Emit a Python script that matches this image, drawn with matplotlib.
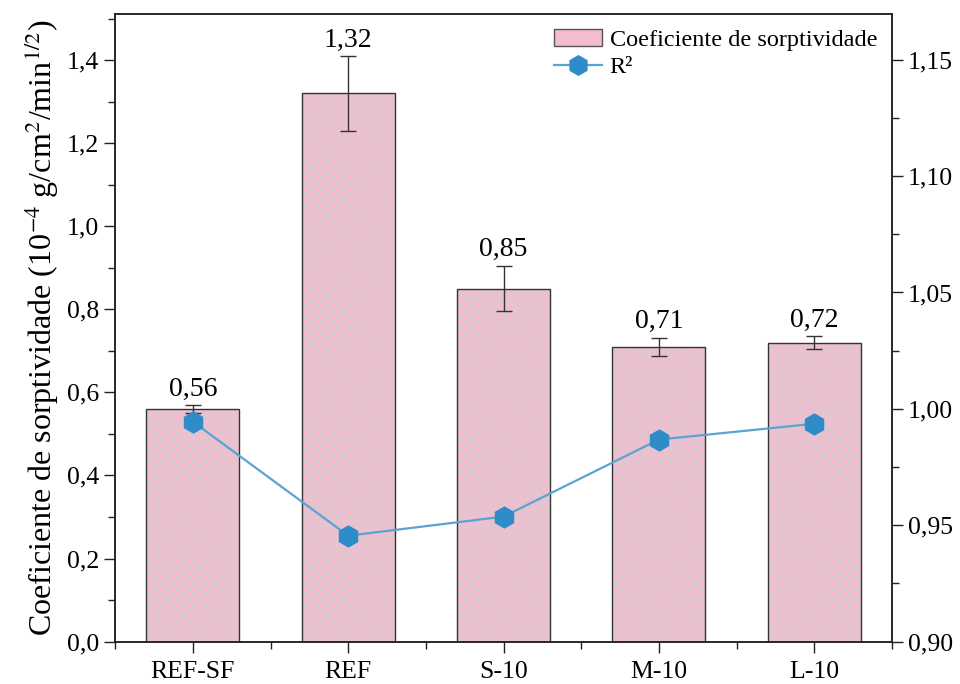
import matplotlib
matplotlib.use("Agg")
import matplotlib.pyplot as plt
from matplotlib.ticker import MultipleLocator, FuncFormatter
from matplotlib.patches import Patch
from matplotlib.lines import Line2D

categories = ["REF-SF", "REF", "S-10", "M-10", "L-10"]
sorptivity = [0.56, 1.32, 0.85, 0.71, 0.72]
sorptivity_err = [0.01, 0.09, 0.055, 0.022, 0.015]
r2 = [0.9945, 0.9455, 0.9537, 0.9868, 0.9936]

plt.rcParams["font.family"] = ["Liberation Serif", "DejaVu Serif"]
plt.rcParams["mathtext.fontset"] = "stix"
plt.rcParams["hatch.linewidth"] = 1.5

fig = plt.figure(figsize=(9.6, 6.84), dpi=100)
ax = fig.add_axes([0.12, 0.062, 0.809, 0.917])
ax2 = ax.twinx()

x = list(range(len(categories)))
bar_face = "#f3bccf"
ax.bar(x, sorptivity, width=0.6, color=bar_face, edgecolor="#dcc8d0",
       hatch="xxx", linewidth=0, zorder=2)
ax.bar(x, sorptivity, width=0.6, fill=False, edgecolor="#333333",
       linewidth=1.0, zorder=3)
ax.errorbar(x, sorptivity, yerr=sorptivity_err, fmt="none", ecolor="#333333",
            elinewidth=1.0, capsize=6, capthick=1.0, zorder=4)
for xi, v, e in zip(x, sorptivity, sorptivity_err):
    ax.text(xi, v + e + 0.008, f"{v:.2f}".replace(".", ","), ha="center",
            va="bottom", fontsize=20)

line_col = "#5aa3d2"
mark_col = "#2e8cc9"
ax2.plot(x, r2, color=line_col, lw=1.6, marker="h", markersize=15,
         markerfacecolor=mark_col, markeredgecolor=mark_col, zorder=5)

ax.set_xlim(-0.5, 4.5)
ax.set_ylim(0, 1.51)
ax2.set_ylim(0.90, 1.1695)

comma = lambda d: FuncFormatter(lambda v, p: f"{v:.{d}f}".replace(".", ","))
ax.yaxis.set_major_locator(MultipleLocator(0.2))
ax.yaxis.set_minor_locator(MultipleLocator(0.1))
ax.yaxis.set_major_formatter(comma(1))
ax2.yaxis.set_major_locator(MultipleLocator(0.05))
ax2.yaxis.set_minor_locator(MultipleLocator(0.025))
ax2.yaxis.set_major_formatter(comma(2))

ax.set_xticks(x)
ax.set_xticklabels(categories)
ax.set_xticks([-0.5, 0.5, 1.5, 2.5, 3.5, 4.5], minor=True)

for a in (ax, ax2):
    a.tick_params(axis="both", which="major", direction="out", length=8,
                  width=1.0, labelsize=18.5, color="#222222")
    a.tick_params(axis="both", which="minor", direction="out", length=5,
                  width=1.0, color="#222222")
    for s in a.spines.values():
        s.set_linewidth(1.1)
        s.set_color("#222222")
ax.tick_params(axis="x", which="major", pad=6)

ax.set_ylabel(r"Coeficiente de sorptividade (10$^{-4}$ g/cm$^{2}$/min$^{1/2}$)",
              fontsize=23, labelpad=4)

handles = [
    Patch(facecolor=bar_face, edgecolor="#555555", linewidth=1.0),
    Line2D([], [], color=line_col, lw=1.6, marker="h", markersize=14,
           markerfacecolor=mark_col, markeredgecolor=mark_col),
]
ax.legend(handles, ["Coeficiente de sorptividade", "R²"], loc="upper right",
          frameon=False, fontsize=17.5, handlelength=2.0, handletextpad=0.3,
          labelspacing=0.22, borderaxespad=0.2, bbox_to_anchor=(1.0, 1.0))

fig.savefig("out.png", dpi=100)
